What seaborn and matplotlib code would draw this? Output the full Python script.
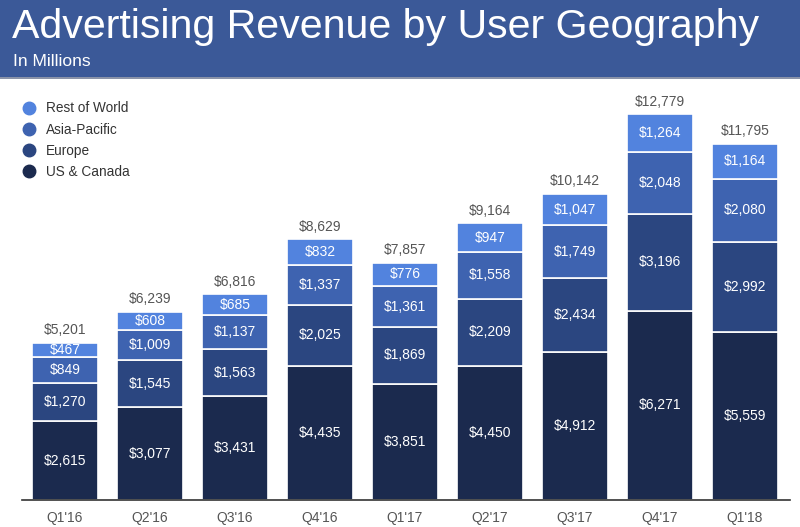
import matplotlib
matplotlib.use("Agg")
import matplotlib.pyplot as plt
import seaborn as sns
import numpy as np
import pandas as pd
from matplotlib.patches import Rectangle
from matplotlib.lines import Line2D

quarters = ["Q1'16", "Q2'16", "Q3'16", "Q4'16", "Q1'17", "Q2'17", "Q3'17", "Q4'17", "Q1'18"]
us_canada = [2615, 3077, 3431, 4435, 3851, 4450, 4912, 6271, 5559]
europe = [1270, 1545, 1563, 2025, 1869, 2209, 2434, 3196, 2992]
asia_pacific = [849, 1009, 1137, 1337, 1361, 1558, 1749, 2048, 2080]
rest_of_world = [467, 608, 685, 832, 776, 947, 1047, 1264, 1164]
totals = [5201, 6239, 6816, 8629, 7857, 9164, 10142, 12779, 11795]

series_names = ["US & Canada", "Europe", "Asia-Pacific", "Rest of World"]
series_vals = [us_canada, europe, asia_pacific, rest_of_world]
colors = ["#1b2a4e", "#2b4680", "#3e63b0", "#5283de"]

sns.set_theme(style="white")
plt.rcParams['font.family'] = ['Liberation Sans', 'DejaVu Sans']

fig = plt.figure(figsize=(8, 5.27), dpi=100)
fig.patch.set_facecolor("white")

# header band
fig.patches.append(Rectangle((0, 1 - 77/527), 1, 77/527, transform=fig.transFigure,
                             facecolor="#3b5998", edgecolor="none", zorder=0))
fig.patches.append(Rectangle((0, 1 - 79/527), 1, 2/527, transform=fig.transFigure,
                             facecolor="#8a93a8", edgecolor="none", zorder=0))
fig.text(12/800, 1 - 27/527, "Advertising Revenue by User Geography", color="white",
         fontsize=29.6, va="center", ha="left")
fig.text(13/800, 1 - 62/527, "In Millions", color="white", fontsize=12.5,
         va="center", ha="left")

ax = fig.add_axes([22/800, 27/527, 768/800, 415/527])
bottom = np.zeros(len(quarters))
for name, vals, c in zip(series_names, series_vals, colors):
    sns.barplot(x=quarters, y=vals, bottom=bottom, color=c, width=0.78,
                edgecolor="white", linewidth=1.2, ax=ax, saturation=1)
    cont = ax.containers[-1]
    ax.bar_label(cont, labels=[f"${v:,}" for v in vals], label_type="center",
                 color="white", fontsize=10)
    bottom = bottom + np.array(vals)

top_cont = ax.containers[-1]
ax.bar_label(top_cont, labels=[f"${v:,}" for v in totals], padding=4,
             color="#555555", fontsize=10)

ax.set_xlim(-0.505, 8.53)
ax.set_ylim(0, 13742)
ax.set_yticks([])
for s in ["top", "right", "left"]:
    ax.spines[s].set_visible(False)
ax.spines["bottom"].set_color("#333333")
ax.spines["bottom"].set_linewidth(1.2)
ax.tick_params(axis="x", length=0, pad=8, labelsize=10, labelcolor="#555555")
ax.set_xlabel("")
ax.set_facecolor("white")

# legend
handles = [Line2D([0], [0], marker="o", linestyle="", markersize=9,
                  markerfacecolor=c, markeredgecolor=c) for c in colors[::-1]]
leg = fig.legend(handles, series_names[::-1], loc="upper left",
                 bbox_to_anchor=(17/800, 1 - 96/527), frameon=False,
                 fontsize=9.8, handletextpad=0.7, labelspacing=0.52,
                 handlelength=1.0, borderaxespad=0)
for t in leg.get_texts():
    t.set_color("#333333")

fig.savefig("out.png", dpi=100)
